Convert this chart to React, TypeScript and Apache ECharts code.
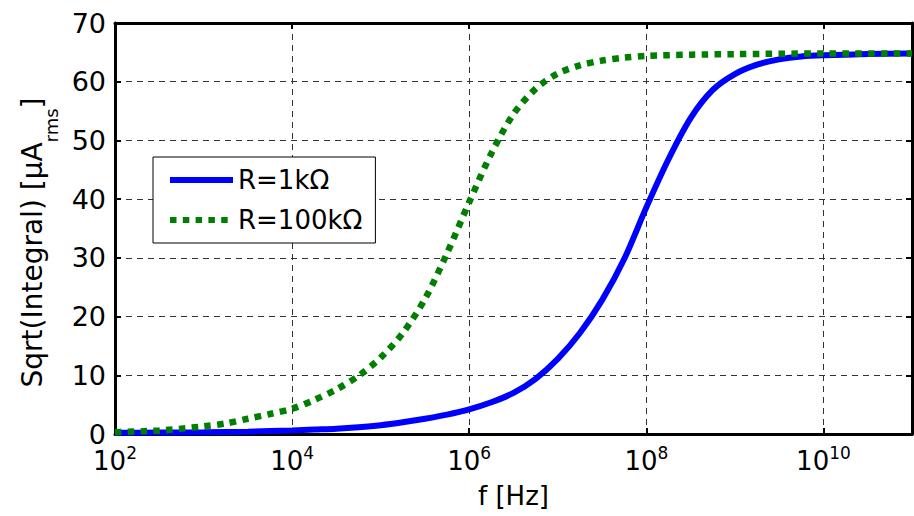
import React, { useEffect, useRef } from "react";
import * as echarts from "echarts";

// log10(f / Hz) sample positions and read values (µA rms)
const exp1k = [2, 2.5, 3, 3.5, 4, 4.25, 4.5, 4.75, 5, 5.25, 5.5, 5.75, 6, 6.25, 6.5, 6.75, 7, 7.25, 7.5, 7.75, 8, 8.25, 8.5, 8.75, 9, 9.25, 9.5, 9.75, 10, 10.5, 11];
const val1k = [0.2, 0.25, 0.3, 0.4, 0.6, 0.75, 0.9, 1.15, 1.5, 2.0, 2.6, 3.3, 4.2, 5.4, 7.0, 9.4, 12.8, 17.2, 22.8, 29.8, 38.6, 46.8, 53.8, 58.6, 61.3, 62.9, 63.8, 64.3, 64.5, 64.7, 64.8];

const exp100k = [2, 2.5, 3, 3.25, 3.5, 3.75, 4, 4.25, 4.5, 4.75, 5, 5.25, 5.5, 5.75, 6, 6.25, 6.5, 6.75, 7, 7.25, 7.5, 7.75, 8, 8.5, 9, 10, 11];
const val100k = [0.3, 0.6, 1.3, 1.8, 2.6, 3.4, 4.3, 5.8, 7.6, 9.9, 13.0, 17.2, 23.0, 30.8, 39.5, 47.8, 54.5, 58.8, 61.4, 62.8, 63.6, 64.1, 64.4, 64.6, 64.7, 64.8, 64.8];

const seriesNames = ["R=1kΩ", "R=100kΩ"];
const xMinExp = 2;
const xMaxExp = 11;
const xStepExp = 2;
const yMin = 0;
const yMax = 70;
const yStep = 10;

const FONT = "'DejaVu Sans', 'Liberation Sans', Arial, sans-serif";

export default function App() {
  const ref = useRef<HTMLDivElement>(null);

  useEffect(() => {
    if (!ref.current) return;
    const chart = echarts.init(ref.current, null, { renderer: "svg" });

    const gridLine = { show: true, lineStyle: { color: "#333", width: 1, type: [6, 5] as any } };
    const axisLine = { show: true, onZero: false, lineStyle: { color: "#000", width: 3 } };
    const tick = { show: true, inside: true, length: 6, lineStyle: { color: "#000", width: 2 } };

    const option: any = {
      animation: false,
      backgroundColor: "#fff",
      textStyle: { fontFamily: FONT },
      grid: { left: 115, right: 2, top: 23, bottom: 82, containLabel: false },
      legend: {
        orient: "vertical",
        left: 153,
        top: 157,
        backgroundColor: "#fff",
        borderColor: "#000",
        borderWidth: 1,
        borderRadius: 0,
        padding: [8, 13, 8, 14],
        itemGap: 10,
        itemWidth: 63,
        itemHeight: 20,
        lineStyle: { width: 6 },
        itemStyle: { opacity: 0 },
        textStyle: { fontSize: 26, fontFamily: FONT, color: "#000", lineHeight: 30 },
        data: seriesNames,
      },
      xAxis: [
        {
          type: "value",
          min: xMinExp,
          max: xMaxExp,
          interval: xStepExp,
          position: "bottom",
          axisLine,
          axisTick: tick,
          splitLine: gridLine,
          name: "f [Hz]",
          nameLocation: "middle",
          nameGap: 47,
          nameTextStyle: { fontSize: 26, color: "#000", fontFamily: FONT, lineHeight: 30 },
          axisLabel: {
            margin: 10,
            showMaxLabel: false,
            color: "#000",
            formatter: (v: number) => `{b|10}{e|${v}}`,
            rich: {
              b: { fontSize: 26, lineHeight: 30, padding: [8, 0, 0, 0], verticalAlign: "bottom", color: "#000", fontFamily: FONT },
              e: { fontSize: 17, lineHeight: 12, verticalAlign: "top", color: "#000", fontFamily: FONT },
            },
          },
        },
        {
          type: "value",
          min: xMinExp,
          max: xMaxExp,
          interval: xStepExp,
          position: "top",
          axisLine,
          axisTick: tick,
          splitLine: { show: false },
          axisLabel: { show: false },
        },
      ],
      yAxis: [
        {
          type: "value",
          min: yMin,
          max: yMax,
          interval: yStep,
          position: "left",
          axisLine,
          axisTick: tick,
          splitLine: gridLine,
          axisLabel: { fontSize: 27, lineHeight: 16, color: "#000", margin: 9, fontFamily: FONT },
          name: "{m|Sqrt(Integral) [μA}{s|rms}{m|]}",
          nameLocation: "middle",
          nameGap: 50,
          nameTextStyle: {
            padding: [0, 28, 0, 0],
            rich: {
              m: { fontSize: 28, lineHeight: 30, verticalAlign: "top", color: "#000", fontFamily: FONT },
              s: { fontSize: 18, lineHeight: 20, padding: [24, 0, 0, 0], verticalAlign: "top", color: "#000", fontFamily: FONT },
            },
          },
        },
        {
          type: "value",
          min: yMin,
          max: yMax,
          interval: yStep,
          position: "right",
          axisLine,
          axisTick: tick,
          splitLine: { show: false },
          axisLabel: { show: false },
        },
      ],
      series: [
        {
          name: seriesNames[0],
          type: "line",
          xAxisIndex: 0,
          yAxisIndex: 0,
          data: exp1k.map((x, i) => [x, val1k[i]]),
          symbol: "none",
          showSymbol: false,
          smooth: 0.3,
          lineStyle: { color: "#0000ff", width: 6 },
          itemStyle: { color: "#0000ff" },
          clip: true,
        },
        {
          name: seriesNames[1],
          type: "line",
          xAxisIndex: 0,
          yAxisIndex: 0,
          data: exp100k.map((x, i) => [x, val100k[i]]),
          symbol: "none",
          showSymbol: false,
          smooth: 0.3,
          lineStyle: { color: "#008000", width: 6.5, type: [6.5, 6.3], cap: "butt" },
          itemStyle: { color: "#008000" },
          clip: true,
        },
      ],
    };

    chart.setOption(option);
    return () => chart.dispose();
  }, []);

  return (
    <div
      ref={ref}
      style={{ position: "fixed", left: 0, top: 0, width: 914, height: 516, background: "#fff" }}
    />
  );
}
